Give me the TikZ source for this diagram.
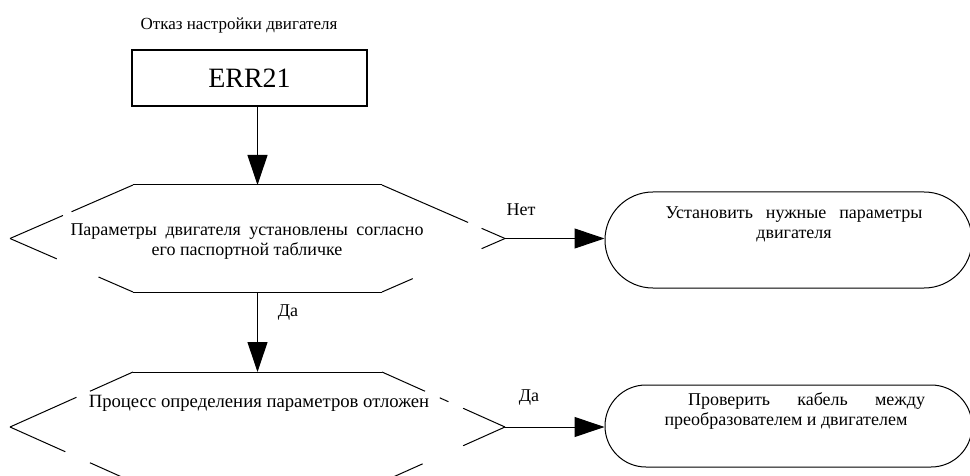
\documentclass[tikz,border=0pt]{standalone}
\usepackage{fontspec}
\setmainfont{Liberation Serif}
\usepackage{tikz}
\usetikzlibrary{calc, arrows.meta}

\begin{document}
\begin{tikzpicture}[x=1pt, y=-1pt, line width=1pt,
    font=\fontsize{18}{20}\selectfont,
    flow/.style={-{Triangle[length=30pt, width=20pt]}},
    errbox/.style={draw, line width=2pt, minimum width=235pt, minimum height=56pt,
                   font=\fontsize{28}{34}\selectfont},
    actbox/.style={draw, rounded corners=#1-0.1pt, minimum width=367pt,
                   minimum height=2*#1},
    plaintext/.style={inner sep=0pt, align=center}]
  \useasboundingbox (0,0) rectangle (970,476);
  \clip (0,0) rectangle (970,476);

  % header
  \node[plaintext, font=\fontsize{17}{20}\selectfont] (title) at (239,25)
    {Отказ настройки двигателя};
  \node[errbox] (err) at (249.5,78) {ERR21};

  % decision hexagons: number, centre y, half height
  \foreach \h/\cy/\hh in {1/238.5/53.5, 2/427/55}{
    \coordinate (h\h-l)  at (10,\cy);
    \coordinate (h\h-r)  at (505,\cy);
    \coordinate (h\h-tl) at (133,\cy-\hh);
    \coordinate (h\h-tr) at (382,\cy-\hh);
    \coordinate (h\h-bl) at (133,\cy+\hh);
    \coordinate (h\h-br) at (382,\cy+\hh);
    \coordinate (h\h-n)  at (257.5,\cy-\hh);
    \coordinate (h\h-s)  at (257.5,\cy+\hh);
  }
  % broken outlines: from/to/start/end
  \foreach \a/\b/\s/\e in {tl/tr/0/1, bl/br/0/1, tl/l/0/0.50, l/tl/0/0.43,
      l/bl/0/0.38, bl/l/0/0.28, tr/r/0/0.70, r/tr/0/0.19, r/br/0/0.19, br/r/0/0.25}
    \draw ($(h1-\a)!\s!(h1-\b)$) -- ($(h1-\a)!\e!(h1-\b)$);
  \foreach \a/\b/\s/\e in {tl/tr/0/1, bl/br/0/1, tl/l/0/0.35, l/tl/0/0.54,
      l/bl/0/0.45, bl/l/0.05/0.35, tr/r/0/0.35, tr/r/0.47/0.54, r/tr/0/0.34,
      r/br/0/0.34, br/r/0.05/0.33}
    \draw ($(h2-\a)!\s!(h2-\b)$) -- ($(h2-\a)!\e!(h2-\b)$);

  \node[plaintext] (q1) at (247,242)
    {\makebox[353pt][s]{Параметры двигателя установлены согласно}\\его паспортной табличке};
  \node[plaintext, font=\fontsize{18.7}{20}\selectfont] (q2) at (259,403)
    {Процесс определения параметров отложен};

  % actions
  \node[actbox=48pt] (act1) at (788.5,240) {};
  \node[actbox=41pt] (act2) at (788.5,426) {};
  \node[plaintext] (t1) at (794,224)
    {\makebox[257pt][s]{Установить нужные параметры}\\двигателя};
  \node[plaintext] (t2) at (786,411)
    {\hspace*{41pt}\makebox[237pt][s]{Проверить кабель между}\\преобразователем и двигателем};

  % connectors
  \draw[flow] (err.south -| h1-n) -- (h1-n);
  \draw[flow] (h1-s) -- (h2-n);
  \draw[flow] (h1-r) -- (h1-r -| act1.west);
  \draw[flow] (h2-r) -- (h2-r -| act2.west);
  \node[plaintext] (no1)  at (521,210) {Нет};
  \node[plaintext] (yes1) at (288,313) {Да};
  \node[plaintext] (yes2) at (529,398) {Да};
\end{tikzpicture}
\end{document}
